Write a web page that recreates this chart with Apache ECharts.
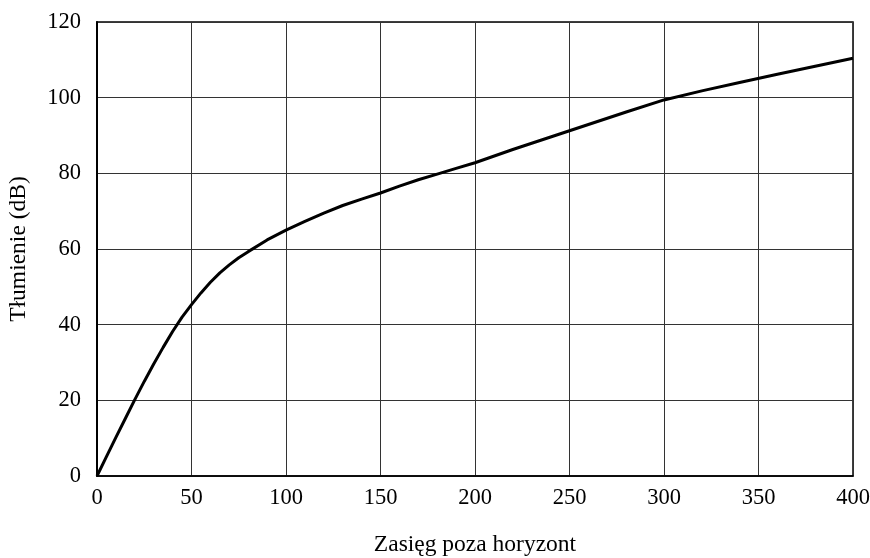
<!DOCTYPE html>
<html>
<head>
<meta charset="utf-8">
<script src="https://cdn.jsdelivr.net/npm/echarts@6/dist/echarts.min.js"></script>
<style>html,body{margin:0;padding:0;background:#fff}#c{width:870px;height:558px}</style>
</head>
<body>
<div id="c"></div>
<script>
const xValues = [0,5,10,15,20,25,30,35,40,45,50,55,60,65,70,75,80,90,100,110,120,130,140,150,160,170,180,190,200,220,240,260,280,300,320,340,360,380,400];
const yValues = [0,5.1,10.2,15.2,20.2,25,29.6,34,38.2,42,45.3,48.4,51.2,53.7,55.8,57.7,59.3,62.4,65,67.3,69.5,71.5,73.2,74.8,76.6,78.3,79.8,81.3,82.8,86.3,89.6,92.9,96.2,99.4,101.8,104,106.2,108.3,110.4];
const xTicks = [0,50,100,150,200,250,300,350,400];
const yTicks = [0,20,40,60,80,100,120];
const xName = 'Zasięg poza horyzont';
const yName = 'Tłumienie (dB)';

const font = 'Liberation Serif';
const chart = echarts.init(document.getElementById('c'), null, {renderer:'canvas'});
chart.setOption({
  animation:false,
  grid:{left:97,right:17,top:22,bottom:82,show:true,borderColor:'#000',borderWidth:1.5,
    containLabel:false,outerBoundsMode:'none'},
  xAxis:{type:'value',min:xTicks[0],max:xTicks[xTicks.length-1],interval:50,
    name:xName,nameLocation:'middle',nameGap:57,
    nameTextStyle:{fontFamily:font,fontSize:23.5,color:'#000'},
    axisLine:{show:true,lineStyle:{color:'#000',width:1.5}},axisTick:{show:false},
    axisLabel:{fontFamily:font,fontSize:22.5,color:'#000',margin:11},
    splitLine:{show:true,lineStyle:{color:'#333',width:1}}},
  yAxis:{type:'value',min:yTicks[0],max:yTicks[yTicks.length-1],interval:20,
    name:yName,nameLocation:'middle',nameGap:66,nameRotate:90,
    nameTextStyle:{fontFamily:font,fontSize:23.5,color:'#000'},
    axisLine:{show:true,lineStyle:{color:'#000',width:2}},axisTick:{show:false},
    axisLabel:{fontFamily:font,fontSize:22.5,color:'#000',margin:16},
    splitLine:{show:true,lineStyle:{color:'#333',width:1}}},
  series:[{type:'line',data:xValues.map((x,i)=>[x,yValues[i]]),showSymbol:false,
    lineStyle:{color:'#000',width:3},smooth:false}]
});
</script>
</body>
</html>
